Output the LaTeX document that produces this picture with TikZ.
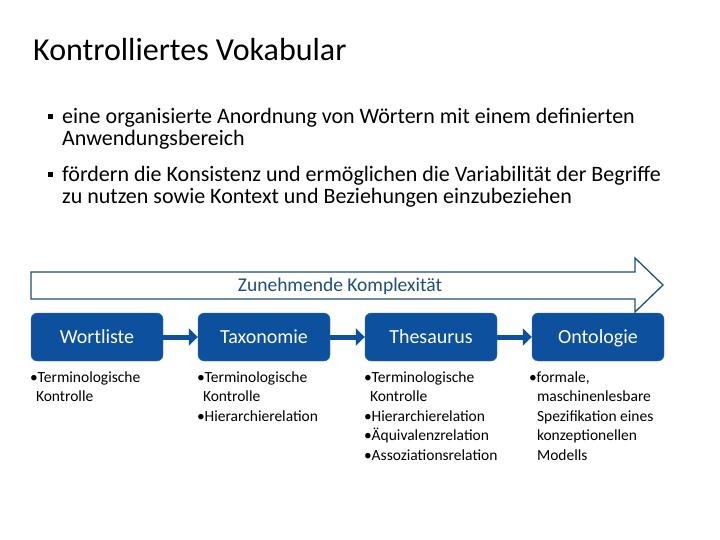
\documentclass[tikz,border=0pt]{standalone}
\usepackage{fontspec}
\setmainfont{Carlito}
\usepackage{tikz}
\usetikzlibrary{shapes,arrows,arrows.meta,positioning}
\definecolor{stageblue}{RGB}{12,80,158}
\definecolor{stageedge}{RGB}{60,112,180}
\definecolor{arrowedge}{RGB}{31,78,121}
\tikzstyle{stage} = [rectangle, draw=stageedge, fill=stageblue, text=white,
    rounded corners=6pt, minimum width=132pt, minimum height=48pt,
    text height=15pt, text depth=2pt, font=\fontsize{20}{22}\selectfont]
\tikzstyle{facts} = [anchor=north west, inner sep=0pt, align=left,
    font=\fontsize{15.5}{19.5}\selectfont]
\tikzstyle{point} = [anchor=north west, inner sep=0pt,
    align=left, font=\fontsize{22}{22}\selectfont]
\tikzstyle{line} = [draw=stageblue, line width=5pt,
    -{Triangle[length=9pt,width=17pt]}]
\newcommand{\sqbullet}{\makebox[14pt][l]{\raisebox{4pt}{\rule{5pt}{5pt}}}}

\begin{document}
\begin{tikzpicture}[x=1pt, y=-1pt, node distance=167pt]
\useasboundingbox (0,0) rectangle (720,540);

% title and bullet points
\node [anchor=west, inner sep=0pt, font=\fontsize{32}{34}\selectfont] (title) at (33,50) {Kontrolliertes Vokabular};
\node [point] (point1) at (48,108) {\sqbullet eine organisierte Anordnung von Wörtern mit einem definierten\\\hspace*{14pt}Anwendungsbereich};
\node [point] (point2) at (48,166) {\sqbullet fördern die Konsistenz und ermöglichen die Variabilität der Begriffe\\\hspace*{14pt}zu nutzen sowie Kontext und Beziehungen einzubeziehen};

% complexity arrow
\draw [draw=arrowedge, line width=1.3pt, fill=white] (31,272) -- (635,272) -- (635,258) -- (663,285)
    -- (635,312) -- (635,299) -- (31,299) -- cycle;
\node [text=arrowedge, font=\fontsize{19.5}{21}\selectfont] (complex) at (340,286) {Zunehmende Komplexität};

% stages
\node [stage] (wort) at (97,337) {Wortliste};
\node [stage, right of=wort] (taxo) {Taxonomie};
\node [stage, right of=taxo] (thes) {Thesaurus};
\node [stage, right of=thes] (onto) {Ontologie};

\path [line] (wort) -- (taxo);
\path [line] (taxo) -- (thes);
\path [line] (thes) -- (onto);

% properties
\node [facts] (wortfacts) at ([xshift=-1pt,yshift=-10pt]wort.south west) {\textbullet Terminologische\\\hspace*{6pt}Kontrolle};
\node [facts] (taxofacts) at ([xshift=-1pt,yshift=-10pt]taxo.south west) {\textbullet Terminologische\\\hspace*{6pt}Kontrolle\\\textbullet Hierarchierelation};
\node [facts] (thesfacts) at ([xshift=-1pt,yshift=-10pt]thes.south west) {\textbullet Terminologische\\\hspace*{6pt}Kontrolle\\\textbullet Hierarchierelation\\\textbullet Äquivalenzrelation\\\textbullet Assoziationsrelation};
\node [facts] (ontofacts) at ([xshift=-3pt,yshift=-10pt]onto.south west) {\textbullet formale,\\\hspace*{8pt}maschinenlesbare\\\hspace*{8pt}Spezifikation eines\\\hspace*{8pt}konzeptionellen\\\hspace*{8pt}Modells};
\end{tikzpicture}
\end{document}
